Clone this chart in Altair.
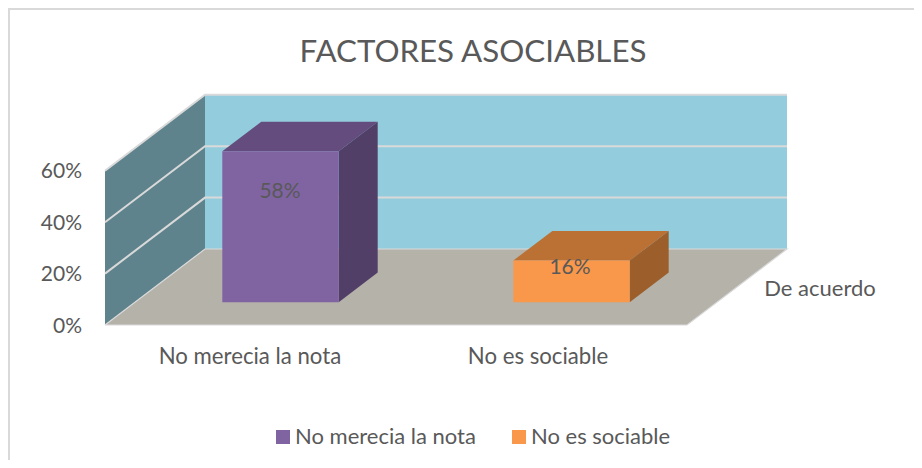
import altair as alt
import pandas as pd

categories = ["No merecia la nota", "No es sociable"]
bar_values = [58.7, 16.2]
bar_labels = ["58%", "16%"]
tick_values = [0, 20, 40, 60]
tick_labels = ["0%", "20%", "40%", "60%"]
series_name = "De acuerdo"
title_text = "FACTORES ASOCIABLES"

FRONT = ["#8064A2", "#F9974A"]
TOP = ["#644D7E", "#BC7134"]
SIDE = ["#513F67", "#9C5F2C"]
BACK_WALL = "#93CDDD"
SIDE_WALL = "#5E838D"
FLOOR = "#B5B2AA"
GRID = "#D9D9D9"
TEXT = "#595959"
FONT = "Lato"

# oblique projection: u along the categories, d into the depth, v the value in %
X0, Y0, UX, DX, DY, VY = 105.0, 325.0, 582.0, 100.0, -76.0, 2.57


def P(u, d, v):
    return (X0 + UX * u + DX * d, Y0 + DY * d - VY * v)


x_s = alt.Scale(domain=[8, 914], nice=False, zero=False)
y_s = alt.Scale(domain=[460, 8], nice=False, zero=False)
X = lambda f="x": alt.X(f"{f}:Q", scale=x_s, axis=None)
Y = lambda f="y": alt.Y(f"{f}:Q", scale=y_s, axis=None, stack=None)


def edge_y(pts, x, pick):
    ys = []
    n = len(pts)
    for i in range(n):
        (a, b), (c, e) = pts[i], pts[(i + 1) % n]
        lo, hi = min(a, c), max(a, c)
        if lo - 1e-9 <= x <= hi + 1e-9:
            if abs(c - a) < 1e-9:
                ys += [b, e]
            else:
                ys.append(b + (e - b) * (x - a) / (c - a))
    return pick(ys)


def poly(pts, color):
    xs = sorted({round(p[0], 6) for p in pts})
    rows = [{"x": x, "y": edge_y(pts, x, min), "y2": edge_y(pts, x, max)} for x in xs]
    return alt.Chart(pd.DataFrame(rows)).mark_area(color=color, opacity=1, strokeWidth=0).encode(
        x=X(), y=Y(), y2="y2:Q"
    )


def line(pts, width=2, color=GRID):
    rows = [{"x": p[0], "y": p[1], "o": i} for i, p in enumerate(pts)]
    return alt.Chart(pd.DataFrame(rows)).mark_line(color=color, strokeWidth=width).encode(
        x=X(), y=Y(), order="o:Q"
    )


def text(rows, size, align="center"):
    return alt.Chart(pd.DataFrame(rows)).mark_text(
        font=FONT, fontSize=size, color=TEXT, align=align, baseline="middle"
    ).encode(x=X(), y=Y(), text="t:N")


layers = []
# frame of the chart
layers.append(line([(9, 460), (9, 9), (914, 9)], 2, "#D9D9D9"))
# walls and floor
layers.append(poly([P(0, 1, 0), P(1, 1, 0), P(1, 1, 60), P(0, 1, 60)], BACK_WALL))
layers.append(poly([P(0, 0, 0), P(0, 1, 0), P(0, 1, 60), P(0, 0, 60)], SIDE_WALL))
layers.append(poly([P(0, 0, 0), P(1, 0, 0), P(1, 1, 0), P(0, 1, 0)], FLOOR))
for t in tick_values[1:]:
    layers.append(line([P(0, 0, t), P(0, 1, t), P(1, 1, t)]))
layers.append(line([P(0, 0, 0), P(0, 1, 0), P(1, 1, 0), P(1, 0, 0), P(0, 0, 0)], 1.2))

# bars
starts = [0.15, 0.65]
BW, D0, D1 = 0.20, 0.30, 0.69
front_rows = []
for i, v in enumerate(bar_values):
    u0, u1 = starts[i], starts[i] + BW
    layers.append(poly([P(u0, D0, v), P(u1, D0, v), P(u1, D1, v), P(u0, D1, v)], TOP[i]))
    layers.append(poly([P(u1, D0, 0), P(u1, D1, 0), P(u1, D1, v), P(u1, D0, v)], SIDE[i]))
    a, b = P(u0, D0, 0), P(u1, D0, v)
    front_rows.append({"x": a[0], "x2": b[0], "y": a[1], "y2": b[1], "c": categories[i]})

layers.append(
    alt.Chart(pd.DataFrame(front_rows)).mark_rect(strokeWidth=0).encode(
        x=X(), x2="x2:Q", y=Y(), y2="y2:Q",
        color=alt.Color(
            "c:N",
            scale=alt.Scale(domain=categories, range=FRONT),
            legend=alt.Legend(
                title=None, orient="none", direction="horizontal",
                legendX=264, legendY=418,
                symbolType="square", symbolSize=196, symbolStrokeWidth=0,
                labelFont=FONT, labelFontSize=22, labelColor=TEXT, labelLimit=400,
                labelOffset=1, columnPadding=32, padding=0,
            ),
        ),
    )
)

# texts
layers.append(text([{"x": 280, "y": 192, "t": bar_labels[0]}, {"x": 570, "y": 268, "t": bar_labels[1]}], 21))
layers.append(text([{"x": 82, "y": P(0, 0, t)[1] + 1.5, "t": l} for t, l in zip(tick_values, tick_labels)], 21, "right"))
layers.append(text([{"x": 250, "y": 357, "t": categories[0]}, {"x": 538, "y": 357, "t": categories[1]}], 22.2))
layers.append(text([{"x": 820, "y": 289, "t": series_name}], 22))

chart = alt.layer(*layers).properties(
    width=906, height=452, padding=0,
    autosize=alt.AutoSizeParams(type="none"),
    background="white",
    title=alt.TitleParams(
        title_text, font=FONT, fontSize=31.3, fontWeight="normal", color=TEXT,
        anchor="middle", frame="group", dx=12, dy=92, baseline="alphabetic",
    ),
).configure_view(stroke=None)

chart.save("out.html", embed_options={"renderer": "svg", "actions": False})
